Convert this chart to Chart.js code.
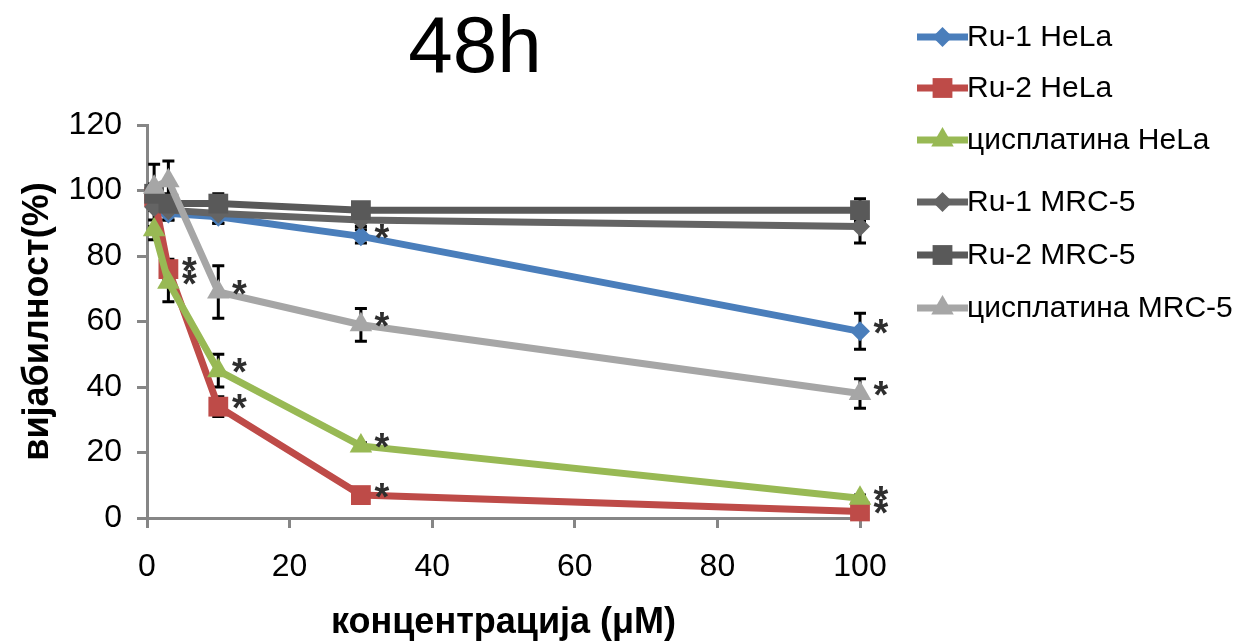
<!DOCTYPE html>
<html>
<head>
<meta charset="utf-8">
<script src="https://cdn.jsdelivr.net/npm/chart.js@4.4.0/dist/chart.umd.min.js"></script>
<style>
  html, body { margin: 0; padding: 0; background: #ffffff; }
  #wrap { width: 1254px; height: 641px; position: relative; }
  canvas { display: block; }
</style>
</head>
<body>
<div id="wrap"><canvas id="chart" width="1254" height="641"></canvas></div>
<script>
// Concentrations (µM) and tick values
const concentrations = [1, 3, 10, 30, 100];
const xTickValues = [0, 20, 40, 60, 80, 100];
const yTickValues = [0, 20, 40, 60, 80, 100, 120];

// Series labels
const seriesNames = ['Ru-1 HeLa', 'Ru-2 HeLa', 'цисплатина HeLa', 'Ru-1 MRC-5', 'Ru-2 MRC-5', 'цисплатина MRC-5'];

// Viability (%) per concentration
const ru1HeLa  = [97, 93, 92, 86, 57];
const ru2HeLa  = [98, 76, 34, 7, 2];
const cisHeLa  = [88, 72, 45, 22, 6];
const ru1MRC5  = [95, 94, 93, 91, 89];
const ru2MRC5  = [99, 96, 96, 94, 94];
const cisMRC5  = [101, 103, 69, 59, 38];

// Standard deviations
const ru1HeLaErr = [2, 2, 2, 2, 5.5];
const ru2HeLaErr = [3, 3, 3, 1, 1];
const cisHeLaErr = [3, 6, 5, 1, 1];
const ru1MRC5Err = [6, 3, 3, 2, 5];
const ru2MRC5Err = [3, 3, 3, 2, 3.5];
const cisMRC5Err = [7, 6, 8, 5, 4.5];

// Statistical significance markers (1 = *)
const ru1HeLaSig = [0, 0, 0, 1, 1];
const ru2HeLaSig = [0, 1, 1, 1, 1];
const cisHeLaSig = [0, 1, 1, 1, 1];
const ru1MRC5Sig = [0, 0, 0, 0, 0];
const ru2MRC5Sig = [0, 0, 0, 0, 0];
const cisMRC5Sig = [0, 0, 1, 1, 1];

const FONT = '"Liberation Sans", Arial, sans-serif';

const seriesStyles = [
  { color: '#4a7ebb', pointStyle: 'rectRot',  radius: 10 },
  { color: '#be4b48', pointStyle: 'rect',     radius: 14 },
  { color: '#98b954', pointStyle: 'triangle', radius: 13 },
  { color: '#646464', pointStyle: 'rectRot',  radius: 10 },
  { color: '#595959', pointStyle: 'rect',     radius: 14 },
  { color: '#a6a6a6', pointStyle: 'triangle', radius: 13 }
];

const seriesValues = [ru1HeLa, ru2HeLa, cisHeLa, ru1MRC5, ru2MRC5, cisMRC5];
const seriesErrors = [ru1HeLaErr, ru2HeLaErr, cisHeLaErr, ru1MRC5Err, ru2MRC5Err, cisMRC5Err];
const seriesSig = [ru1HeLaSig, ru2HeLaSig, cisHeLaSig, ru1MRC5Sig, ru2MRC5Sig, cisMRC5Sig];

const datasets = seriesNames.map((name, i) => ({
  label: name,
  data: concentrations.map((c, j) => ({ x: c, y: seriesValues[i][j] })),
  errors: seriesErrors[i],
  sig: seriesSig[i],
  order: seriesNames.length - i,   // later series are painted on top
  showLine: true,
  borderColor: seriesStyles[i].color,
  backgroundColor: seriesStyles[i].color,
  borderWidth: 7,
  pointStyle: seriesStyles[i].pointStyle,
  pointRadius: seriesStyles[i].radius,
  pointHoverRadius: seriesStyles[i].radius,
  pointBorderWidth: 0,
  pointBackgroundColor: seriesStyles[i].color,
  tension: 0,
  clip: false
}));

// Error bars (behind), significance asterisks, title and legend
const overlayPlugin = {
  id: 'overlay',
  beforeDatasetsDraw(chart) {
    const ctx = chart.ctx;
    const xs = chart.scales.x, ys = chart.scales.y;
    ctx.save();
    ctx.strokeStyle = '#000000';
    ctx.lineWidth = 3;
    chart.data.datasets.forEach(ds => {
      ds.data.forEach((p, j) => {
        const e = ds.errors[j];
        const px = xs.getPixelForValue(p.x);
        const yTop = ys.getPixelForValue(p.y + e);
        const yBot = ys.getPixelForValue(p.y - e);
        ctx.beginPath();
        ctx.moveTo(px, yTop); ctx.lineTo(px, yBot);
        ctx.moveTo(px - 6, yTop); ctx.lineTo(px + 6, yTop);
        ctx.moveTo(px - 6, yBot); ctx.lineTo(px + 6, yBot);
        ctx.stroke();
      });
    });
    ctx.restore();
  },
  afterDatasetsDraw(chart) {
    const ctx = chart.ctx;
    const xs = chart.scales.x, ys = chart.scales.y;
    ctx.save();
    ctx.fillStyle = '#2e2e2e';
    ctx.font = 'bold 38px ' + FONT;
    ctx.textAlign = 'center';
    ctx.textBaseline = 'alphabetic';
    const m = ctx.measureText('*');
    const shift = (m.actualBoundingBoxAscent - m.actualBoundingBoxDescent) / 2;
    chart.data.datasets.forEach(ds => {
      ds.data.forEach((p, j) => {
        if (!ds.sig[j]) return;
        const px = xs.getPixelForValue(p.x) + 21;
        const py = ys.getPixelForValue(p.y) - 5;
        ctx.fillText('*', px, py + shift);
      });
    });
    ctx.restore();
  },
  afterDraw(chart) {
    const ctx = chart.ctx;
    ctx.save();
    // Title
    ctx.fillStyle = '#000000';
    ctx.font = '80px ' + FONT;
    ctx.textAlign = 'center';
    ctx.textBaseline = 'alphabetic';
    ctx.fillText('48h', 475, 72);

    // Legend
    const rowY = [37, 88, 140, 202, 255, 308];
    const lineX0 = 917, lineX1 = 968;
    ctx.font = '30px ' + FONT;
    ctx.textAlign = 'left';
    ctx.textBaseline = 'middle';
    chart.data.datasets.forEach((ds, i) => {
      const y = rowY[i];
      ctx.strokeStyle = ds.borderColor;
      ctx.fillStyle = ds.borderColor;
      ctx.lineWidth = ds.borderWidth;
      ctx.beginPath();
      ctx.moveTo(lineX0, y); ctx.lineTo(lineX1, y);
      ctx.stroke();
      Chart.helpers.drawPoint(ctx, {
        pointStyle: ds.pointStyle, radius: ds.pointRadius, rotation: 0, borderWidth: 0
      }, (lineX0 + lineX1) / 2, y);
      ctx.fillStyle = '#000000';
      ctx.fillText(ds.label, lineX1 - 1, y + 1);
    });
    ctx.restore();
  }
};

const axisGray = '#868686';

new Chart(document.getElementById('chart'), {
  type: 'scatter',
  data: { datasets },
  options: {
    responsive: false,
    animation: false,
    devicePixelRatio: 1,
    layout: { padding: { left: 0, top: 125, right: 394, bottom: 0 } },
    plugins: { legend: { display: false }, tooltip: { enabled: false }, title: { display: false } },
    scales: {
      x: {
        type: 'linear',
        min: 0, max: 100,
        afterBuildTicks: s => { s.ticks = xTickValues.map(v => ({ value: v })); },
        afterFit: s => { s.height = 123; },
        ticks: { font: { family: FONT, size: 32 }, color: '#000000', padding: 20, maxRotation: 0 },
        grid: { display: true, drawOnChartArea: false, drawTicks: true, tickLength: 10, tickWidth: 3, tickColor: axisGray },
        border: { display: true, color: axisGray, width: 3 },
        title: {
          display: true, text: 'концентрација (μM)', color: '#000000',
          font: { family: FONT, size: 36, weight: 'bold' }, padding: { top: 0, bottom: -4 }
        }
      },
      y: {
        type: 'linear',
        min: 0, max: 120,
        afterBuildTicks: s => { s.ticks = yTickValues.map(v => ({ value: v })); },
        afterFit: s => { s.width = 147; },
        ticks: { font: { family: FONT, size: 32 }, color: '#000000', padding: 15 },
        grid: { display: true, drawOnChartArea: false, drawTicks: true, tickLength: 10, tickWidth: 3, tickColor: axisGray },
        border: { display: true, color: axisGray, width: 3 },
        title: {
          display: true, text: 'вијабилност(%)', color: '#000000',
          font: { family: FONT, size: 36, weight: 'bold' }, padding: { top: 16, bottom: 0 }
        }
      }
    }
  },
  plugins: [overlayPlugin]
});
</script>
</body>
</html>
